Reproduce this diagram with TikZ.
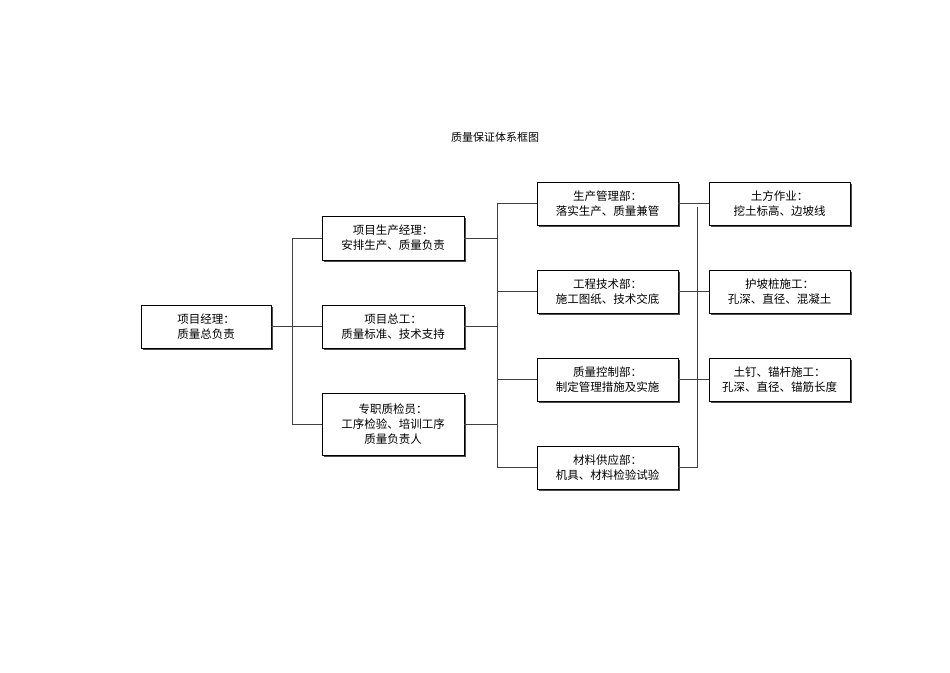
\documentclass[tikz,border=0pt]{standalone}
\usepackage{fontspec}
\setmainfont{Noto Sans CJK SC}
\begin{document}
\begin{tikzpicture}[x=1pt,y=-1pt,
  bx/.style={draw=black,line width=0.7pt,fill=white,align=center,font=\fontsize{11.5}{15}\selectfont,inner sep=0pt},
  ln/.style={draw=black!75,line width=0.7pt}]
\useasboundingbox (0,0) rectangle (950,672);
\node[font=\fontsize{11}{13}\selectfont] (title) at (495,137) {质量保证体系框图};
\newcommand{\mybox}[6]{%
  \fill[black!70] (#2+1.5,#3+1.5) rectangle (#4+1.5,#5+1.5);
  \node[bx,minimum width=#4-#2,minimum height=#5-#3] (#1) at ({(#2+#4)/2},{(#3+#5)/2}) {#6};}
\mybox{pm}{141}{305}{271}{348}{项目经理：\\质量总负责}
\mybox{a}{322}{216}{464}{260}{项目生产经理：\\安排生产、质量负责}
\mybox{b}{322}{305}{464}{348}{项目总工：\\质量标准、技术支持}
\mybox{c}{322}{393}{464}{455}{专职质检员：\\工序检验、培训工序\\质量负责人}
\mybox{d1}{537}{182}{678}{225}{生产管理部：\\落实生产、质量兼管}
\mybox{d2}{537}{270}{678}{313}{工程技术部：\\施工图纸、技术交底}
\mybox{d3}{537}{358}{678}{401}{质量控制部：\\制定管理措施及实施}
\mybox{d4}{537}{446}{678}{489}{材料供应部：\\机具、材料检验试验}
\mybox{e1}{709}{182}{850}{225}{土方作业：\\挖土标高、边坡线}
\mybox{e2}{709}{270}{850}{313}{护坡桩施工：\\孔深、直径、混凝土}
\mybox{e3}{709}{358}{850}{401}{土钉、锚杆施工：\\孔深、直径、锚筋长度}
\coordinate (j1) at (292,0);
\coordinate (j2) at (497,0);
\coordinate (j3) at (697,0);
\path[ln] (pm.east) -- (pm.east -| j1)
  (a.west -| j1) -- (c.west -| j1)
  (a.west -| j1) -- (a.west) (b.west -| j1) -- (b.west) (c.west -| j1) -- (c.west)
  (a.east) -- (a.east -| j2) (b.east) -- (b.east -| j2) (c.east) -- (c.east -| j2)
  (d1.west -| j2) -- (d4.west -| j2)
  (d1.west -| j2) -- (d1.west) (d2.west -| j2) -- (d2.west) (d3.west -| j2) -- (d3.west) (d4.west -| j2) -- (d4.west)
  (d1.east) -- (d1.east -| j3) (d2.east) -- (d2.east -| j3) (d3.east) -- (d3.east -| j3) (d4.east) -- (d4.east -| j3)
  ([yshift=-3pt]d1.east -| j3) -- (d4.east -| j3)
  (e1.west -| j3) -- (e1.west) (e2.west -| j3) -- (e2.west) (e3.west -| j3) -- (e3.west);
\end{tikzpicture}
\end{document}
